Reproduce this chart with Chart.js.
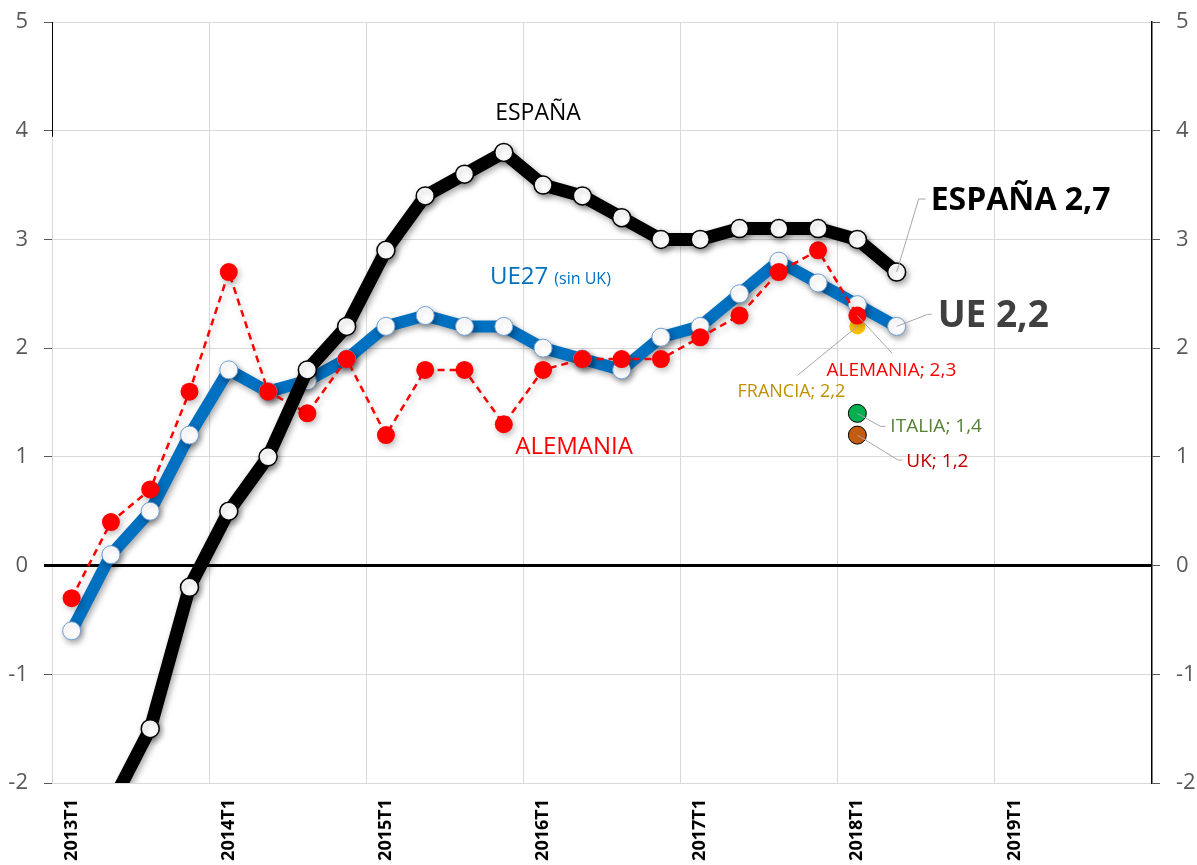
<!DOCTYPE html>
<html>
<head>
<meta charset="utf-8">
<script src="https://cdn.jsdelivr.net/npm/chart.js@4.4.1/dist/chart.umd.min.js"></script>
<style>
    html, body { margin:0; padding:0; background:#fff; }
    #wrap { width:1197px; height:865px; }
</style>
</head>
<body>
<div id="wrap"><canvas id="chart" width="1197" height="865"></canvas></div>
<script>
// ── Data ──────────────────────────────────────────────────────────────
const quarters = [];
for (let y = 2013; y <= 2019; y++) for (let q = 1; q <= 4; q++) quarters.push(y + 'T' + q);

const espana   = [-2.8, -2.2, -1.5, -0.2, 0.5, 1.0, 1.8, 2.2, 2.9, 3.4, 3.6, 3.8, 3.5, 3.4, 3.2, 3.0, 3.0, 3.1, 3.1, 3.1, 3.0, 2.7];
const ue27     = [-0.6, 0.1, 0.5, 1.2, 1.8, 1.6, 1.7, 1.9, 2.2, 2.3, 2.2, 2.2, 2.0, 1.9, 1.8, 2.1, 2.2, 2.5, 2.8, 2.6, 2.4, 2.2];
const alemania = [-0.3, 0.4, 0.7, 1.6, 2.7, 1.6, 1.4, 1.9, 1.2, 1.8, 1.8, 1.3, 1.8, 1.9, 1.9, 1.9, 2.1, 2.3, 2.7, 2.9, 2.3];

// single 2018T1 points
const lastIdx  = 20;
const francia  = 2.2;
const italia   = 1.4;
const uk       = 1.2;

const yTicks   = [-2, -1, 0, 1, 2, 3, 4, 5];

function singlePoint(v) {
    const arr = quarters.map(() => null);
    arr[lastIdx] = v;
    return arr;
}

const FONT = '"Open Sans", Calibri, sans-serif';

// ── Plugins ───────────────────────────────────────────────────────────
const shadowPlugin = {
    id: 'shadow',
    beforeDatasetDraw(chart, args) {
        const ds = chart.data.datasets[args.index];
        if (!ds.shadow) return;
        const ctx = chart.ctx;
        ctx.save();
        ctx.shadowColor = 'rgba(0,0,0,' + ds.shadow + ')';
        ctx.shadowBlur = 6;
        ctx.shadowOffsetX = 2;
        ctx.shadowOffsetY = 3;
    },
    afterDatasetDraw(chart, args) {
        const ds = chart.data.datasets[args.index];
        if (ds.shadow) chart.ctx.restore();
    }
};

// callouts: offsets in px relative to the data point they describe
const callouts = [
    { text:'ESPAÑA 2,7',    i:21, v:espana[21],   path:[[22,-73],[29,-73]], tx:34, ty:-71, align:'left',   font:'bold 32px ' + FONT, color:'#000' },
    { text:'UE 2,2',        i:21, v:ue27[21],     path:[[31,-12],[35,-12]], tx:41, ty:-10, align:'left',   font:'bold 37px ' + FONT, color:'#404040' },
    { text:'ALEMANIA; 2,3', i:20, v:alemania[20], path:[[35,38]],           tx:34, ty:55,  align:'center', font:'19px ' + FONT,      color:'#FF0000' },
    { text:'FRANCIA; 2,2',  i:20, v:francia,      path:[[-60,49]],          tx:-66, ty:65, align:'center', font:'18px ' + FONT,      color:'#BF9000' },
    { text:'ITALIA; 1,4',   i:20, v:italia,       path:[[23,13],[28,13]],   tx:33, ty:13,  align:'left',   font:'19px ' + FONT,      color:'#548235' },
    { text:'UK; 1,2',       i:20, v:uk,           path:[[41,25],[45,25]],   tx:49, ty:26,  align:'left',   font:'19px ' + FONT,      color:'#C00000' },
];

// series names placed in data space
const seriesLabels = [
    { text:'ESPAÑA',   i:11.87, v:4.16,  align:'center', font:'23px ' + FONT, color:'#000' },
    { text:'ALEMANIA', i:12.79, v:1.085, align:'center', font:'24px ' + FONT, color:'#FF0000' },
];

const annotatePlugin = {
    id: 'annotate',
    afterDatasetsDraw(chart) {
        const ctx = chart.ctx, x = chart.scales.x, y = chart.scales.y, a = chart.chartArea;
        ctx.save();

        // short left axis stub at the top
        ctx.strokeStyle = '#000'; ctx.lineWidth = 1;
        ctx.beginPath();
        ctx.moveTo(a.left + 0.5, y.getPixelForValue(5));
        ctx.lineTo(a.left + 0.5, y.getPixelForValue(4) + 6);
        ctx.stroke();

        ctx.textBaseline = 'middle';
        seriesLabels.forEach(l => {
            ctx.font = l.font; ctx.fillStyle = l.color; ctx.textAlign = l.align;
            ctx.fillText(l.text, x.getPixelForValue(l.i), y.getPixelForValue(l.v));
        });

        // UE27 (sin UK)
        const ux = x.getPixelForValue(10.65), uy = y.getPixelForValue(2.65);
        ctx.textAlign = 'left'; ctx.fillStyle = '#0070C0';
        ctx.font = '24px ' + FONT;
        ctx.fillText('UE27', ux, uy);
        const w = ctx.measureText('UE27').width + 6;
        ctx.font = '16px ' + FONT;
        ctx.fillText('(sin UK)', ux + w, uy + 2);

        callouts.forEach(c => {
            const px = x.getPixelForValue(c.i), py = y.getPixelForValue(c.v);
            ctx.strokeStyle = '#A6A6A6'; ctx.lineWidth = 1;
            ctx.beginPath();
            ctx.moveTo(px, py);
            c.path.forEach(p => ctx.lineTo(px + p[0], py + p[1]));
            ctx.stroke();
            ctx.font = c.font; ctx.fillStyle = c.color; ctx.textAlign = c.align;
            ctx.fillText(c.text, px + c.tx, py + c.ty);
        });
        ctx.restore();
    }
};

// ── Chart ─────────────────────────────────────────────────────────────
const yTickFont = { family: FONT, size: 22 };

new Chart(document.getElementById('chart'), {
    type: 'line',
    data: {
        labels: quarters,
        datasets: [
            { label:'ESPAÑA', data: espana, order: 0, clip: 0, shadow: 0.35,
              borderColor:'#000', borderWidth: 13, borderJoinStyle:'round',
              pointRadius: 9, pointBackgroundColor:'#fff', pointBorderColor:'#000', pointBorderWidth: 1.5 },
            { label:'ALEMANIA', data: alemania, order: 1, shadow: 0.25,
              borderColor:'#FF0000', borderWidth: 2.5, borderDash:[7,5],
              pointRadius: 9, pointBackgroundColor:'#FF0000', pointBorderColor:'#FF0000', pointBorderWidth: 0 },
            { label:'FRANCIA', data: singlePoint(francia), order: 1.5, showLine: false,
              pointRadius: 8, pointBackgroundColor:'#FFC000', pointBorderColor:'#FFC000', pointBorderWidth: 0 },
            { label:'UE27', data: ue27, order: 2, shadow: 0.35,
              borderColor:'#0070C0', borderWidth: 12, borderJoinStyle:'round',
              pointRadius: 9, pointBackgroundColor:'#fff', pointBorderColor:'#6F9FD8', pointBorderWidth: 1 },
            { label:'ITALIA', data: singlePoint(italia), order: -1, showLine: false,
              pointRadius: 9, pointBackgroundColor:'#00B050', pointBorderColor:'#000', pointBorderWidth: 1 },
            { label:'UK', data: singlePoint(uk), order: -1, showLine: false,
              pointRadius: 9, pointBackgroundColor:'#C55A11', pointBorderColor:'#000', pointBorderWidth: 1 },
        ]
    },
    options: {
        responsive: false,
        animation: false,
        devicePixelRatio: 1,
        layout: { padding: { top: 22, left: 0, right: 0, bottom: 0 } },
        plugins: { legend: { display: false }, tooltip: { enabled: false } },
        elements: { line: { tension: 0 } },
        scales: {
            x: {
                offset: true,
                grid: {
                    offset: true,
                    drawTicks: false,
                    color: c => (c.index % 4 === 0 ? '#D9D9D9' : 'rgba(0,0,0,0)'),
                },
                border: { display: false },
                ticks: {
                    autoSkip: false, maxRotation: 90, minRotation: 90, padding: 16,
                    color: '#000', font: { family: FONT, size: 18, weight: 'bold' },
                    callback: (v, i) => (i % 4 === 0 ? quarters[i] : ''),
                },
                afterFit: s => { s.height = 82; },
            },
            y: {
                position: 'left', min: -2, max: 5,
                afterBuildTicks: s => { s.ticks = yTicks.map(v => ({ value: v })); },
                grid: {
                    color: c => (c.tick && c.tick.value === 0 ? '#000' : '#D9D9D9'),
                    lineWidth: c => (c.tick && c.tick.value === 0 ? 3 : 1),
                    tickColor: c => (c.tick && c.tick.value === 0 ? '#000' : '#595959'),
                    tickLength: 8,
                },
                border: { display: false },
                ticks: { color: '#595959', font: yTickFont, padding: 16 },
                afterFit: s => { s.width = 52; s.paddingTop = 10; },
            },
            y2: {
                position: 'right', min: -2, max: 5,
                afterBuildTicks: s => { s.ticks = yTicks.map(v => ({ value: v })); },
                grid: { drawOnChartArea: false, tickLength: 8, tickColor: '#595959' },
                border: { display: true, color: '#000', width: 1.5 },
                ticks: { color: '#595959', font: yTickFont, padding: 16 },
                afterFit: s => { s.width = 45; s.paddingTop = 10; },
            },
        }
    },
    plugins: [shadowPlugin, annotatePlugin]
});
</script>
</body>
</html>
